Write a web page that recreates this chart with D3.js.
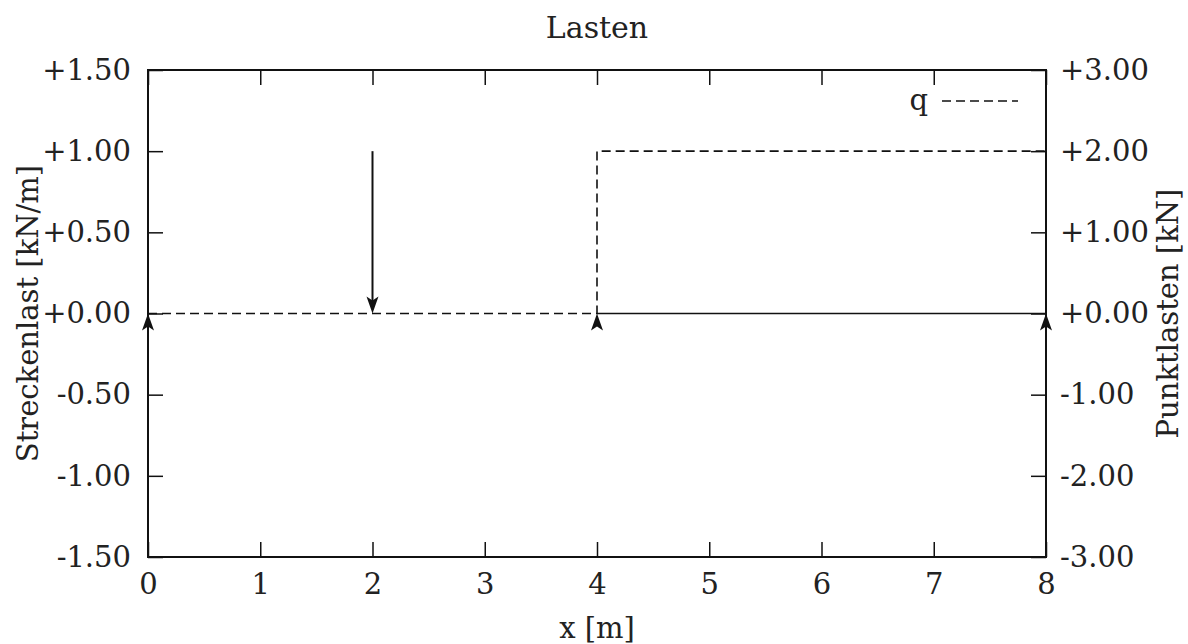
<!DOCTYPE html>
<html>
<head>
<meta charset="utf-8">
<script src="https://cdn.jsdelivr.net/npm/d3@7"></script>
<style>
  body { margin: 0; background: #fff; }
  svg text { font-family: "DejaVu Serif", serif; fill: #222; }
</style>
</head>
<body>
<div id="chart"></div>
<script>
// Streckenlast q [kN/m]
var qX = [0, 4, 4, 8];
var qY = [0, 0, 1, 1];
// Nulllinie rechts vom Lastsprung
var nullX = [4, 8];
var nullY = [0, 0];
// Punktlasten [kN] (nach unten)
var punktX = [2];
var punktF = [2];
// Auflager
var lagerX = [0, 4, 8];

var xTicks = [0, 1, 2, 3, 4, 5, 6, 7, 8];
var yLeftTicks = [-1.5, -1, -0.5, 0, 0.5, 1, 1.5];
var yRightTicks = [-3, -2, -1, 0, 1, 2, 3];

var width = 1188, height = 644;
var margin = {left: 148, right: 142, top: 70, bottom: 87};

var svg = d3.select("#chart").append("svg")
    .attr("width", width)
    .attr("height", height);

var x = d3.scaleLinear().domain([0, 8]).range([margin.left, width - margin.right]);
var yL = d3.scaleLinear().domain([-1.5, 1.5]).range([height - margin.bottom, margin.top]);
var yR = d3.scaleLinear().domain([-3, 3]).range([height - margin.bottom, margin.top]);

var fmt = function(d) { return (d >= 0 ? "+" : "-") + Math.abs(d).toFixed(2); };
var tick = 15, fs = 29;

function styleAxis(g) {
  g.select(".domain").remove();
  g.selectAll(".tick line").attr("stroke", "#111").attr("stroke-width", 1.5);
  g.selectAll(".tick text").attr("font-size", fs).attr("fill", "#222")
    .style("font-family", "DejaVu Serif, serif");
}

svg.append("g").attr("transform", "translate(0," + yL.range()[0] + ")")
  .call(d3.axisBottom(x).tickValues(xTicks).tickFormat(d3.format("d")).tickSize(-tick).tickPadding(11))
  .call(styleAxis)
  .selectAll(".tick text").attr("dy", "0.9em");

svg.append("g").attr("transform", "translate(0," + yL.range()[1] + ")")
  .call(d3.axisTop(x).tickValues(xTicks).tickFormat("").tickSize(-tick))
  .call(styleAxis);

svg.append("g").attr("transform", "translate(" + x.range()[0] + ",0)")
  .call(d3.axisLeft(yL).tickValues(yLeftTicks).tickFormat(fmt).tickSize(-tick).tickPadding(17))
  .call(styleAxis);

svg.append("g").attr("transform", "translate(" + x.range()[1] + ",0)")
  .call(d3.axisRight(yR).tickValues(yRightTicks).tickFormat(fmt).tickSize(-tick).tickPadding(14))
  .call(styleAxis);

// frame
svg.append("rect")
  .attr("x", x.range()[0]).attr("y", yL.range()[1])
  .attr("width", x.range()[1] - x.range()[0])
  .attr("height", yL.range()[0] - yL.range()[1])
  .attr("fill", "none").attr("stroke", "#111").attr("stroke-width", 2);

var line = d3.line();

svg.append("path")
  .attr("d", line(nullX.map(function(d, i) { return [x(d), yL(nullY[i])]; })))
  .attr("fill", "none").attr("stroke", "#111").attr("stroke-width", 1.3);

svg.append("path")
  .attr("d", line(qX.map(function(d, i) { return [x(d), yL(qY[i])]; })))
  .attr("fill", "none").attr("stroke", "#111").attr("stroke-width", 1.6)
  .attr("stroke-dasharray", "9,5");

var head = "M0,0L-6,17L0,13L6,17Z";

// Punktlasten
punktX.forEach(function(px, i) {
  svg.append("line")
    .attr("x1", x(px)).attr("x2", x(px))
    .attr("y1", yR(punktF[i])).attr("y2", yR(0) - 10)
    .attr("stroke", "#111").attr("stroke-width", 2);
  svg.append("path")
    .attr("d", head)
    .attr("transform", "translate(" + x(px) + "," + yR(0) + ") rotate(180)")
    .attr("fill", "#111");
});

// Auflager
svg.selectAll(".lager").data(lagerX).enter().append("path")
  .attr("class", "lager")
  .attr("d", head)
  .attr("transform", function(d) { return "translate(" + x(d) + "," + yL(0) + ")"; })
  .attr("fill", "#111");

// Legende
svg.append("text").attr("x", 928).attr("y", 110).attr("text-anchor", "end")
  .attr("font-size", fs).text("q");
svg.append("line").attr("x1", 942).attr("x2", 1018).attr("y1", 101).attr("y2", 101)
  .attr("stroke", "#111").attr("stroke-width", 1.6).attr("stroke-dasharray", "9,5");

// Titel und Achsenbeschriftungen
svg.append("text").attr("x", (x.range()[0] + x.range()[1]) / 2).attr("y", 38)
  .attr("text-anchor", "middle").attr("font-size", 30).text("Lasten");
svg.append("text").attr("x", (x.range()[0] + x.range()[1]) / 2).attr("y", 638)
  .attr("text-anchor", "middle").attr("font-size", fs).text("x [m]");
svg.append("text")
  .attr("transform", "translate(38," + yL(0) + ") rotate(-90)")
  .attr("text-anchor", "middle").attr("font-size", fs).text("Streckenlast [kN/m]");
svg.append("text")
  .attr("transform", "translate(1178," + yL(0) + ") rotate(-90)")
  .attr("text-anchor", "middle").attr("font-size", fs).text("Punktlasten [kN]");
</script>
</body>
</html>
